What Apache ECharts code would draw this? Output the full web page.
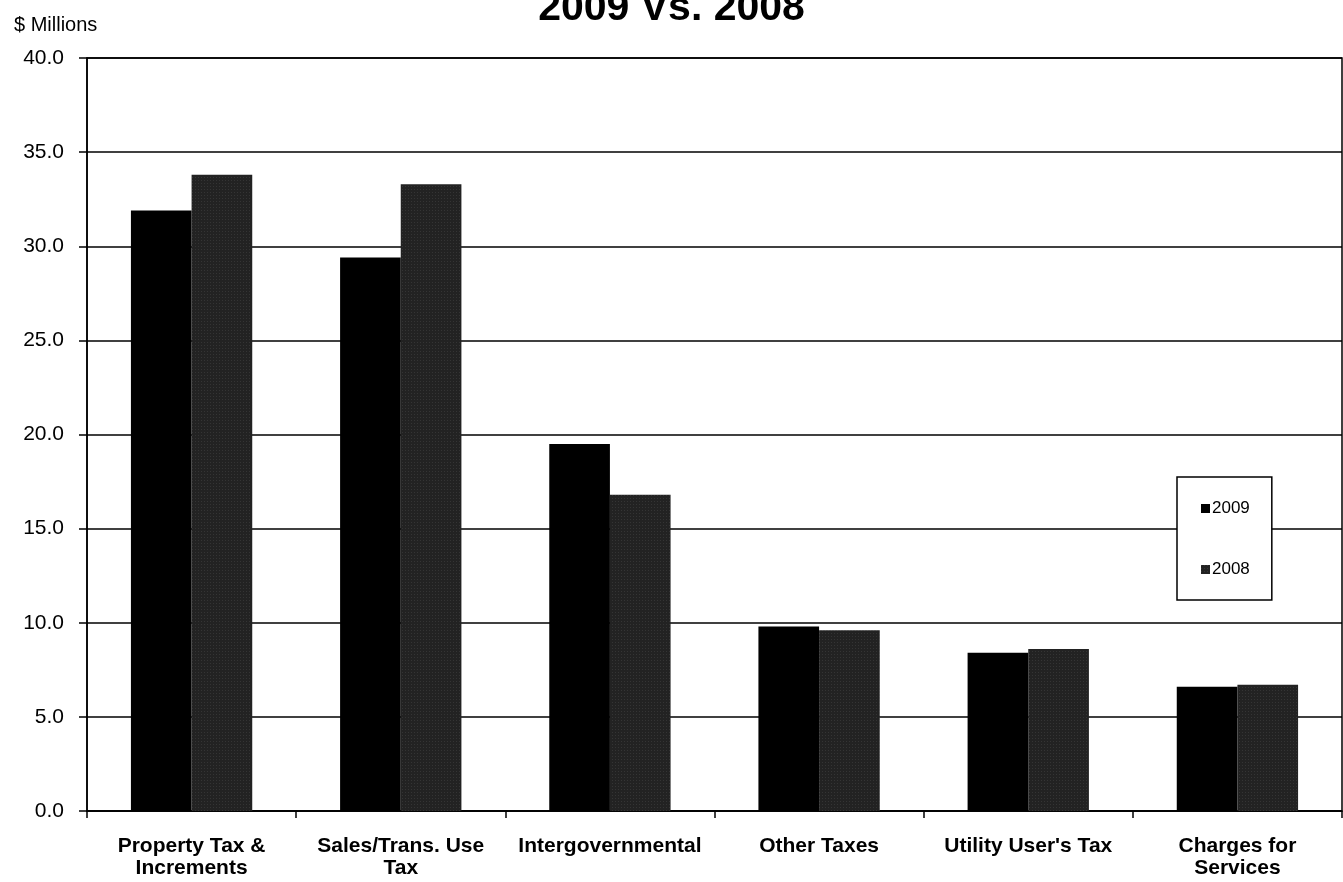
<!DOCTYPE html>
<html>
<head>
<meta charset="utf-8">
<script src="https://cdn.jsdelivr.net/npm/echarts@6/dist/echarts.min.js"></script>
<style>
  html, body { margin: 0; padding: 0; background: #fff; }
  #container { width: 1343px; height: 882px; }
</style>
</head>
<body>
<div id="container"></div>
<script>
// categories and values ($ Millions)
var categories = ['Property Tax &\nIncrements', 'Sales/Trans. Use\nTax', 'Intergovernmental', 'Other Taxes', "Utility User's Tax", 'Charges for\nServices'];
var values2009 = [31.9, 29.4, 19.5, 9.8, 8.4, 6.6];
var values2008 = [33.8, 33.3, 16.8, 9.6, 8.6, 6.7];
var seriesNames = ['2009', '2008'];

var font = 'Arial, "Liberation Sans", sans-serif';
var dom = document.getElementById('container');
var myChart = echarts.init(dom);

var option = {
    backgroundColor: '#fff',
    animation: false,
    title: [
        {
            text: '2009 Vs. 2008',
            left: 'center',
            top: -17,
            textStyle: { fontFamily: font, fontSize: 41, fontWeight: 'bold', color: '#000' }
        },
        {
            text: '$ Millions',
            left: 9,
            top: 10,
            textStyle: { fontFamily: font, fontSize: 20, fontWeight: 'normal', color: '#000' }
        }
    ],
    legend: {
        data: seriesNames,
        orient: 'vertical',
        left: 1177,
        top: 477,
        itemWidth: 9,
        itemHeight: 9,
        itemGap: 44,
        padding: [23, 22, 22, 24],
        borderColor: '#000',
        borderWidth: 1.5,
        backgroundColor: '#fff',
        icon: 'rect',
        textStyle: { fontFamily: font, fontSize: 17, color: '#000', padding: [0, 0, 0, -3] }
    },
    grid: {
        left: 87,
        right: 1,
        top: 58,
        bottom: 71,
        show: true,
        borderColor: '#000',
        borderWidth: 1.5
    },
    xAxis: {
        type: 'category',
        data: categories,
        axisLine: { lineStyle: { color: '#000', width: 1.5 } },
        axisTick: { show: true, length: 7, lineStyle: { color: '#000', width: 1.5 } },
        axisLabel: {
            interval: 0,
            margin: 24,
            fontFamily: font,
            fontSize: 21,
            fontWeight: 'bold',
            color: '#000',
            lineHeight: 22
        }
    },
    yAxis: {
        type: 'value',
        min: 0,
        max: 40,
        interval: 5,
        axisLine: { show: true, lineStyle: { color: '#000', width: 1.5 } },
        axisTick: { show: true, length: 8, lineStyle: { color: '#000', width: 1.5 } },
        splitLine: { lineStyle: { color: '#000', width: 1.5 } },
        axisLabel: {
            margin: 23,
            fontFamily: font,
            fontSize: 21,
            color: '#000',
            formatter: function (v) { return v.toFixed(1); }
        }
    },
    series: [
        {
            name: seriesNames[0],
            type: 'bar',
            data: values2009,
            barGap: '0%',
            barCategoryGap: '42%',
            itemStyle: { color: '#000' }
        },
        {
            name: seriesNames[1],
            type: 'bar',
            data: values2008,
            barGap: '0%',
            barCategoryGap: '42%',
            itemStyle: {
                color: '#222',
                decal: {
                    symbol: 'rect',
                    symbolSize: 0.5,
                    color: 'rgba(200,200,200,0.45)',
                    dashArrayX: [1, 2],
                    dashArrayY: [1, 2],
                    rotation: 0
                }
            }
        }
    ]
};
myChart.setOption(option);
</script>
</body>
</html>
